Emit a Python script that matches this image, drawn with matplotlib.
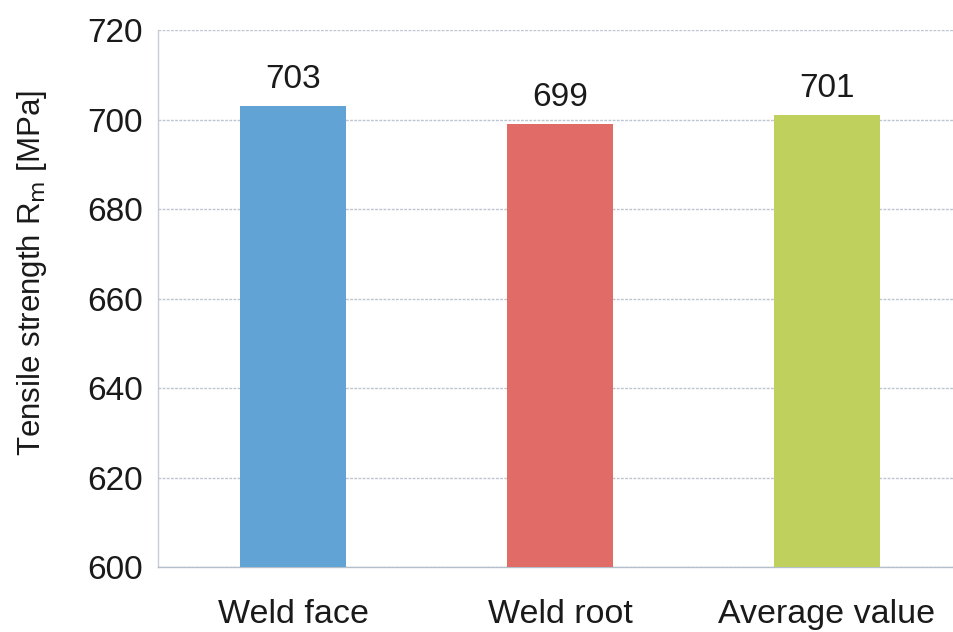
import matplotlib
matplotlib.use("Agg")
import matplotlib.pyplot as plt

categories = ["Weld face", "Weld root", "Average value"]
strengths = [703, 699, 701]
bar_colors = ["#62a3d6", "#e16b66", "#c0d05c"]
y_ticks = [600, 620, 640, 660, 680, 700, 720]

plt.rcParams["font.family"] = ["Liberation Sans", "DejaVu Sans"]

fig = plt.figure(figsize=(9.54, 6.32), dpi=100)
ax = fig.add_axes([0.1656, 0.1028, 0.8344, 0.8497])

x = list(range(len(categories)))
bars = ax.bar(x, strengths, width=0.4, color=bar_colors, zorder=3)

for xi, v in zip(x, strengths):
    ax.text(xi, v + 2.4, f"{v}", ha="center", va="bottom", fontsize=24, color="#1a1a1a")

ax.set_ylim(600, 720)
ax.set_xlim(-0.506, 2.476)
ax.set_yticks(y_ticks)
ax.set_xticks(x)
ax.set_xticklabels(categories, fontsize=24.5)
ax.tick_params(axis="y", length=0, labelsize=24, colors="#1a1a1a", pad=11)
ax.tick_params(axis="x", length=0, colors="#1a1a1a", pad=23)

ax.yaxis.grid(True, linestyle=(0, (2, 1)), color="#bcc5d1", linewidth=1.0, zorder=0)
ax.set_axisbelow(True)

for side in ["top", "right"]:
    ax.spines[side].set_visible(False)
ax.spines["left"].set_color("#c8ccd2")
ax.spines["bottom"].set_color("#b4bfcc")
ax.spines["left"].set_linewidth(1.0)
ax.spines["bottom"].set_linewidth(1.0)

ax.set_ylabel(r"Tensile strength R$_{\mathrm{m}}$ [MPa]", fontsize=22.5, color="#1a1a1a")
ax.yaxis.set_label_coords(-0.137, 0.547)

fig.savefig("out.png", dpi=100)
